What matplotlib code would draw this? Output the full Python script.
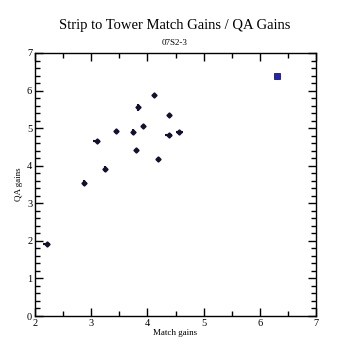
import matplotlib
matplotlib.use("Agg")
import matplotlib.pyplot as plt
from matplotlib.ticker import MultipleLocator

plt.rcParams['font.family'] = ['Liberation Serif', 'DejaVu Serif']

# match gains vs QA gains
match_gains = [2.21, 2.87, 3.10, 3.25, 3.45, 3.75, 3.84, 3.80, 3.93, 4.12, 4.18, 4.39, 4.38, 4.57]
qa_gains = [1.91, 3.53, 4.65, 3.90, 4.92, 4.89, 5.55, 4.41, 5.07, 5.87, 4.17, 5.34, 4.83, 4.89]
match_err = [0.06, 0.0, 0.06, 0.0, 0.0, 0.0, 0.0, 0.0, 0.0, 0.0, 0.0, 0.0, 0.06, 0.06]
qa_err = [0.0, 0.08, 0.0, 0.08, 0.0, 0.08, 0.1, 0.0, 0.0, 0.0, 0.0, 0.0, 0.0, 0.0]

# highlighted point
hl_x = [6.31]
hl_y = [6.40]

fig = plt.figure(figsize=(3.5, 3.5), dpi=100)
ax = fig.add_axes([35 / 350, 34 / 350, 281 / 350, 263 / 350])

ax.errorbar(match_gains, qa_gains, xerr=match_err, yerr=qa_err, fmt='D',
            ms=2.6, color='#101030', ecolor='#101030', elinewidth=1.5, capsize=0)
ax.errorbar(hl_x, hl_y, xerr=[0.05], yerr=[0.08], fmt='none',
            ecolor='#101060', elinewidth=1.0, capsize=0)
ax.plot(hl_x, hl_y, 's', ms=3.8, color='#2424b0', mec='#181870', mew=0.6, zorder=5)

ax.set_xlim(2, 7)
ax.set_ylim(0, 7)
ax.xaxis.set_major_locator(MultipleLocator(1))
ax.xaxis.set_minor_locator(MultipleLocator(0.5))
ax.yaxis.set_major_locator(MultipleLocator(1))
ax.yaxis.set_minor_locator(MultipleLocator(0.2))
ax.tick_params(which='both', direction='in', top=True, right=True,
               labelsize=7.5, pad=2)
ax.tick_params(which='major', length=6, width=1)
ax.tick_params(which='minor', length=3.5, width=1)
for s in ax.spines.values():
    s.set_linewidth(1)

ax.set_xlabel('Match gains', fontsize=6.5, labelpad=1)
ax.set_ylabel('QA gains', fontsize=6.5, labelpad=3)

fig.text(0.5, 1 - 25 / 350, 'Strip to Tower Match Gains / QA Gains',
         ha='center', va='center', fontsize=10.5)
fig.text(0.5, 1 - 43 / 350, '07S2-3', ha='center', va='center', fontsize=6.5)

fig.savefig('out.png', dpi=100)
